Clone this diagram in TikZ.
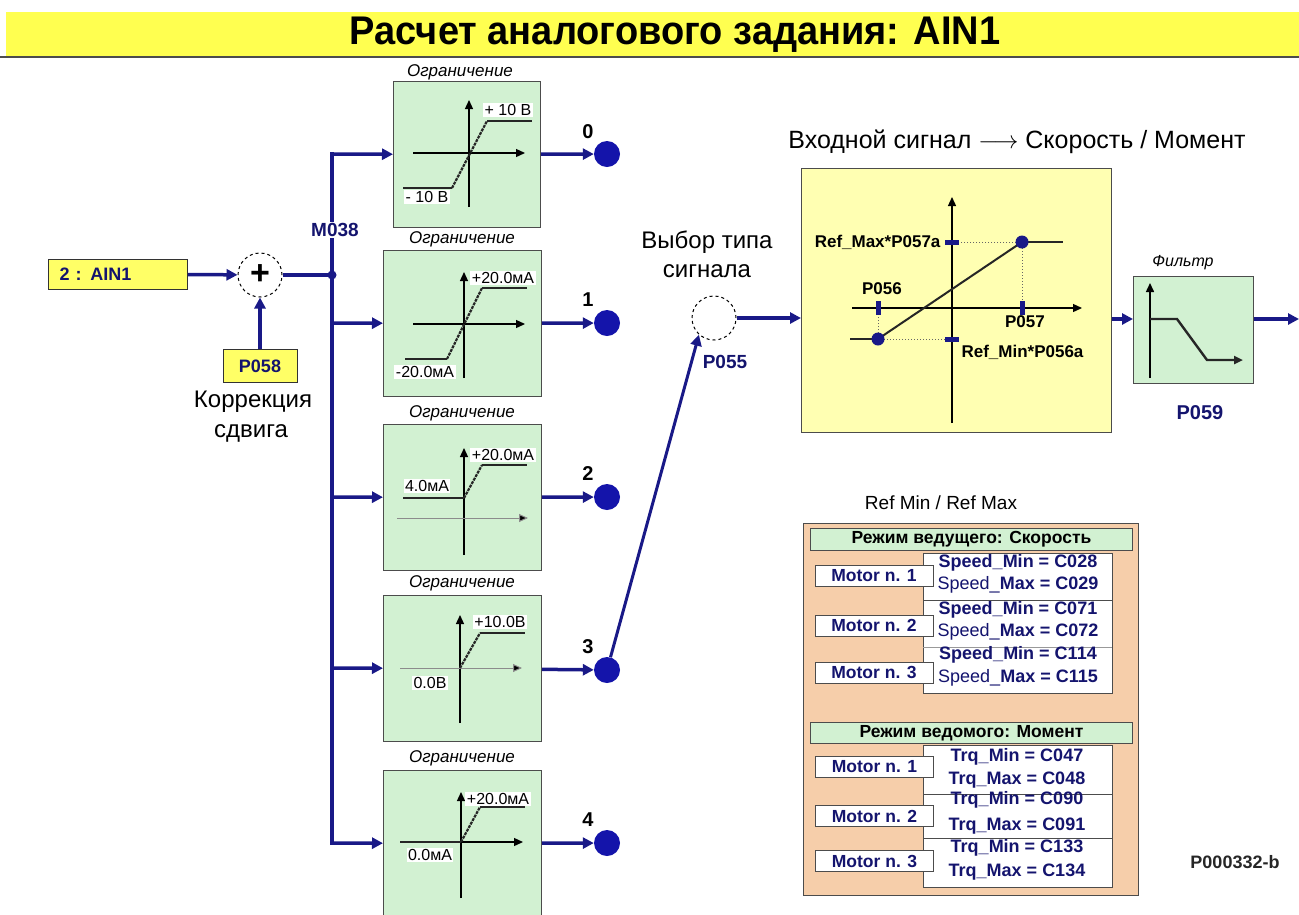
\documentclass[tikz,border=0pt]{standalone}
\usepackage{fontspec}
\setmainfont{Liberation Sans}
\newfontfamily\condfont[FakeStretch=0.95]{Liberation Sans}
\usetikzlibrary{arrows.meta}
\definecolor{navy}{RGB}{25,25,135}
\definecolor{tnavy}{RGB}{20,20,110}
\definecolor{dotblue}{RGB}{20,20,170}
\definecolor{lgreen}{RGB}{210,241,210}
\definecolor{titley}{RGB}{255,255,80}
\definecolor{ainy}{RGB}{255,255,102}
\definecolor{bigy}{RGB}{255,255,178}
\definecolor{peach}{RGB}{246,206,170}
\newcommand\sz[1]{\fontsize{#1}{#1}\selectfont}
\tikzset{
  bl/.style={draw=navy, line width=3.5pt},
  arr/.style={-{Triangle[length=11pt,width=11pt]}},
  gbox/.style={draw=black!70, fill=lgreen, line width=1pt, anchor=north west, minimum width=158pt, minimum height=146pt, inner sep=0pt},
  ax/.style={draw=black, line width=1.3pt, -{Triangle[length=9pt,width=8pt]}},
  thinax/.style={draw=black!45, line width=1pt, -{Triangle[length=9pt,width=8pt,fill=black]}},
  crv/.style={draw=black!85, line width=2.4pt},
  slope/.style={draw=black!85, line width=2.2pt, dash pattern=on 3pt off 1pt},
  vlab/.style={fill=white, inner sep=1.5pt, font=\sz{16}},
  olab/.style={font=\itshape\sz{17}},
  dotn/.style={circle, fill=dotblue, minimum size=26pt, inner sep=0pt},
  num/.style={font=\bfseries\sz{20}},
  nv/.style={text=tnavy, font=\bfseries\sz{18}},
  ybox/.style={draw=black!80, fill=ainy, line width=1pt},
  blab/.style={font=\bfseries\sz{17}, text=black},
  tick/.style={fill=navy},
  dotl/.style={draw=black!60, line width=1pt, dotted},
  hdr/.style={draw=black!70, fill=lgreen, line width=1pt, anchor=north west, minimum width=322pt, minimum height=22pt, inner sep=0pt, font=\bfseries\sz{17.5}},
  wpanel/.style={draw=black!70, fill=white, line width=1pt, anchor=north west, minimum width=189pt, inner sep=0pt},
  mbox/.style={draw=black!70, fill=white, line width=1pt, minimum width=118pt, minimum height=21pt, inner sep=0pt, text=tnavy, font=\bfseries\sz{17.5}},
  val/.style={text=tnavy, font=\bfseries\sz{18}, inner sep=0pt}
}
\begin{document}
\begin{tikzpicture}[x=1pt,y=-1pt]
\useasboundingbox (0,0) rectangle (1299,914);
% ---------- title ----------
\fill[titley] (6,12) rectangle (1299,56);
\draw[black!70, line width=1.5pt] (0,57) -- (1299,57);
\node[font=\condfont\bfseries\sz{40}] (title) at (675,35) {Расчет аналогового задания: AIN1};

% ---------- input ----------
\node[ybox, anchor=west, minimum height=30pt, text width=117pt, inner xsep=11pt, align=left, text=tnavy, font=\bfseries\sz{18}] (ain) at (48,274) {2 : AIN1};
\node[circle, draw, dashed, fill=white, minimum size=44pt, inner sep=0pt, line width=1pt, font=\bfseries\sz{34}] (sum) at (260,275) {+};
\node[ybox, minimum width=74pt, minimum height=33pt, nv] (p058) at (260,366) {P058};
\node[font=\sz{24}] (korr) at (253,402) {Коррекция};
\node[font=\sz{24}] (sdv) at (251,433) {сдвига};
\draw[bl, arr] (ain) -- (sum);
\draw[bl, arr] (p058) -- (sum);
\coordinate (jm) at (332,275);
\draw[bl] (sum) -- (jm);
\fill[navy] (jm) circle (4.5pt);

% ---------- bus and limiter boxes ----------
\coordinate (j0) at (332,154);
\coordinate (j1) at (332,323);
\coordinate (j2) at (332,497);
\coordinate (j3) at (332,668);
\coordinate (j4) at (332,843);
\node[gbox, minimum width=147pt] (b0) at (393,81) {};
\node[gbox] (b1) at (383,250) {};
\node[gbox] (b2) at (383,424) {};
\node[gbox] (b3) at (383,595) {};
\node[gbox] (b4) at (383,770) {};
\draw[bl, line cap=rect] (j0) -- (j4);
\foreach \i in {0,...,4} { \draw[bl, arr] (j\i) -- (b\i); }
\node[nv, font=\bfseries\sz{19}, fill=white, inner sep=1pt] (m038) at (335,230) {M038};

\node[olab] (o0) at (460,72) {Ограничение};
\node[olab] (o1) at (462,239) {Ограничение};
\node[olab] (o2) at (462,413) {Ограничение};
\node[olab] (o3) at (462,583) {Ограничение};
\node[olab] (o4) at (462,758) {Ограничение};

% box 0
\draw[ax] (469,207) -- (469,100);
\draw[ax] (413,153) -- (525,153);
\draw[crv] (403,188) -- (452,188);
\draw[slope] (452,188) -- (487,121);
\draw[crv] (487,121) -- (532,121);
\node[vlab] (l0a) at (508,110) {+ 10 В};
\node[vlab] (l0b) at (427,197) {- 10 В};
% box 1
\draw[ax] (464,378) -- (464,272);
\draw[ax] (413,324) -- (525,324);
\draw[crv] (405,359) -- (447,359);
\draw[slope] (447,359) -- (482,288);
\draw[crv] (482,288) -- (527,288);
\node[vlab] (l1a) at (503,278) {+20.0мА};
\node[vlab] (l1b) at (425,372) {-20.0мА};
% box 2
\draw[ax] (464,555) -- (464,448);
\draw[thinax] (397,518) -- (528,518);
\draw[crv] (403,498) -- (464,498);
\draw[slope] (464,498) -- (482,465);
\draw[crv] (482,465) -- (527,465);
\node[vlab] (l2a) at (503,455) {+20.0мА};
\node[vlab] (l2b) at (427,486) {4.0мА};
% box 3
\draw[ax] (460,723) -- (460,615);
\draw[thinax] (400,668) -- (522,668);
\draw[slope] (460,668) -- (480,633);
\draw[crv] (480,633) -- (525,633);
\node[vlab] (l3a) at (500,622) {+10.0В};
\node[vlab] (l3b) at (430,683) {0.0В};
% box 4
\draw[ax] (461,898) -- (461,792);
\draw[ax] (400,842) -- (523,842);
\draw[crv] (400,842) -- (461,842);
\draw[slope] (461,842) -- (480,807);
\draw[crv] (480,807) -- (525,807);
\node[vlab] (l4a) at (498,799) {+20.0мА};
\node[vlab] (l4b) at (430,855) {0.0мА};

% ---------- output dots ----------
\node[dotn] (d0) at (607,154) {};
\node[dotn] (d1) at (607,323) {};
\node[dotn] (d2) at (607,497) {};
\node[dotn] (d3) at (607,670) {};
\node[dotn] (d4) at (607,843) {};
\foreach \i/\yy in {0/132,1/300,2/474,3/647,4/820} {
  \draw[bl, arr] (b\i) -- (d\i);
  \node[num] (n\i) at (588,\yy) {\i};
}

% ---------- selector ----------
\node[font=\sz{24}] (vyb1) at (707,242) {Выбор типа};
\node[font=\sz{24}] (vyb2) at (707,271) {сигнала};
\node[circle, draw, dashed, fill=white, minimum size=44pt, inner sep=0pt, line width=1pt] (sel) at (714,318) {};
\node[nv, font=\bfseries\sz{19}] (p055) at (725,362) {P055};
\draw[navy, line width=3pt, arr] (d3) -- (sel.228);

% ---------- scaling box ----------
\node[font=\sz{25}] (inout) at (1017,142) {Входной сигнал $\longrightarrow$ Скорость / Момент};
\node[draw=black!70, fill=bigy, line width=1pt, anchor=north west, minimum width=310pt, minimum height=264pt, inner sep=0pt] (big) at (801,168) {};
\draw[bl, arr] (sel) -- (big.west |- sel);
\draw[ax] (952,423) -- (952,197);
\draw[ax] (852,308) -- (1082,308);
\draw[dotl] (878,339) -- (878,308);
\draw[dotl] (878,339) -- (952,339);
\draw[dotl] (1022,242) -- (952,242);
\draw[dotl] (1022,242) -- (1022,308);
\draw[crv] (850,339) -- (878,339);
\draw[black!85, line width=2pt] (878,339) -- (1022,242);
\draw[crv] (1022,242) -- (1063,242);
\fill[navy] (878,339) circle (6.5pt);
\fill[navy] (1022,242) circle (6.5pt);
\fill[tick] (875.5,301) rectangle (880.5,315);
\fill[tick] (1019.5,301) rectangle (1024.5,315);
\fill[tick] (945,336.5) rectangle (959,341.5);
\fill[tick] (945,239.5) rectangle (959,244.5);
\node[blab, anchor=east] (rmax) at (944,242) {Ref\_Max*P057a};
\node[blab] (p056) at (882,289) {P056};
\node[blab] (p057) at (1025,322) {P057};
\node[blab, anchor=west] (rmin) at (958,352) {Ref\_Min*P056a};

% ---------- filter ----------
\node[draw=black!70, fill=lgreen, line width=1pt, anchor=north west, minimum width=120pt, minimum height=107pt, inner sep=0pt] (filt) at (1133,276) {};
\node[font=\itshape\sz{16}] (filtl) at (1183,263) {Фильтр};
\coordinate (fy) at (0,319);
\coordinate (out) at (1299,319);
\draw[bl, arr] (big.east |- fy) -- (filt.west |- fy);
\draw[bl, arr] (filt.east |- fy) -- (out);
\draw[draw=black, line width=1.5pt, -{Triangle[length=9pt,width=8pt]}] (1150,378) -- (1150,283);
\draw[crv, -{Triangle[length=9pt,width=8pt]}] (1150,319) -- (1177,319) -- (1207,360) -- (1243,360);
\node[nv, font=\bfseries\sz{20}] (p059) at (1200,413) {P059};

% ---------- Ref min / max table ----------
\node[font=\sz{19}] (refmm) at (941,503) {Ref Min / Ref Max};
\node[draw=black!70, fill=peach, line width=1pt, anchor=north west, minimum width=335pt, minimum height=372pt, inner sep=0pt] (tab) at (803,523) {};
\node[hdr] (h1) at (810,528) {Режим ведущего: Скорость};
\node[wpanel, minimum height=140pt] (sp) at (923,553) {};
\draw[black!70, line width=1pt] (923,600) -- (1112,600);
\draw[black!40, line width=0.8pt] (923,647) -- (1112,647);
\node[mbox] (sm1) at (874,575.5) {Motor n. 1};
\node[mbox] (sm2) at (874,625.5) {Motor n. 2};
\node[mbox] (sm3) at (874,672.5) {Motor n. 3};
\node[val] (sv1) at (1018,563) {Speed\_Min = C028};
\node[val] (sv2) at (1018,585) {\mdseries Speed\_\bfseries Max = C029};
\node[val] (sv3) at (1018,610) {Speed\_Min = C071};
\node[val] (sv4) at (1018,632) {\mdseries Speed\_\bfseries Max = C072};
\node[val] (sv5) at (1018,655) {Speed\_Min = C114};
\node[val] (sv6) at (1018,678) {\mdseries Speed\_\bfseries Max = C115};

\node[hdr, minimum height=21pt] (h2) at (810,722) {Режим ведомого: Момент};
\node[wpanel, minimum height=142pt] (tp) at (923,745) {};
\draw[black!70, line width=1pt] (923,794) -- (1112,794);
\draw[black!70, line width=1pt] (923,838) -- (1112,838);
\node[mbox] (tm1) at (874.5,767) {Motor n. 1};
\node[mbox] (tm2) at (874.5,816) {Motor n. 2};
\node[mbox] (tm3) at (874.5,861) {Motor n. 3};
\node[val] (tv1) at (1017,757) {Trq\_Min = C047};
\node[val] (tv2) at (1017,780) {Trq\_Max = C048};
\node[val] (tv3) at (1017,800) {Trq\_Min = C090};
\node[val] (tv4) at (1017,826) {Trq\_Max = C091};
\node[val] (tv5) at (1017,848) {Trq\_Min = C133};
\node[val] (tv6) at (1017,872) {Trq\_Max = C134};

\node[font=\bfseries\sz{18}, text=black!85] (code) at (1235,862) {P000332-b};
\end{tikzpicture}
\end{document}
